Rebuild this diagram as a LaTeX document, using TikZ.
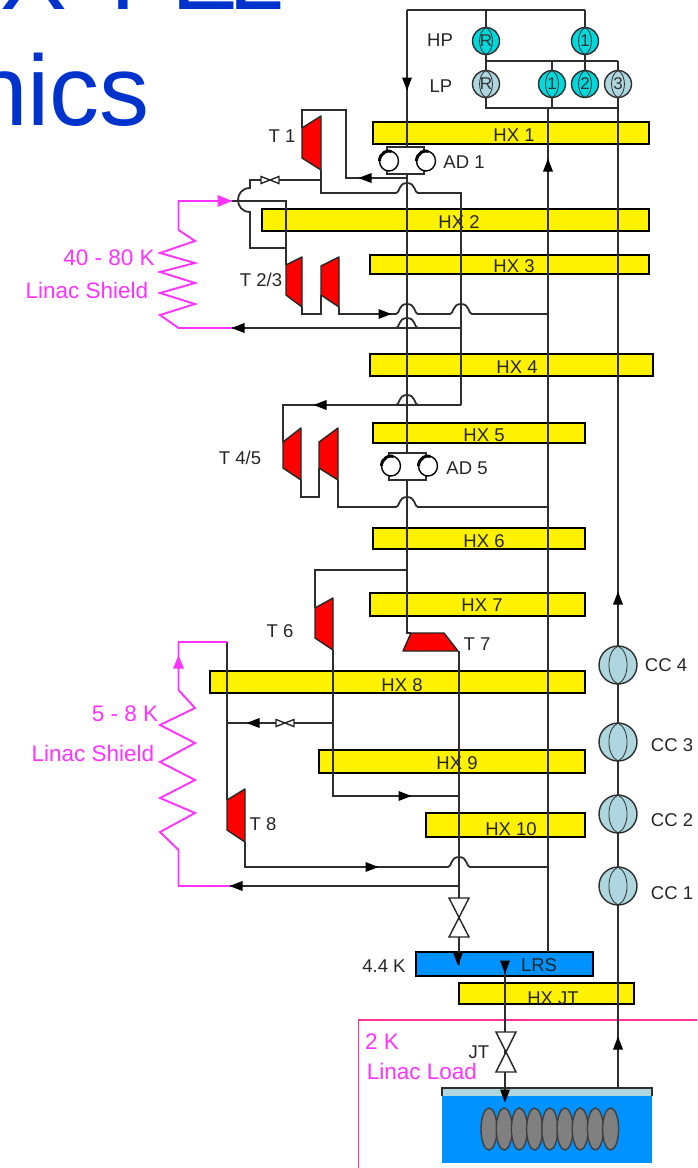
\documentclass[tikz,border=0pt]{standalone}
\usepackage{fontspec}
\setmainfont{Liberation Sans}
\usetikzlibrary{shapes.geometric}
\definecolor{pipecol}{HTML}{2E2E2E}
\definecolor{titleblue}{HTML}{0033CC}
\definecolor{shieldpink}{HTML}{FF33FF}
\definecolor{boxpink}{HTML}{FF3399}
\definecolor{cyanhp}{HTML}{00D8DC}
\definecolor{lightcc}{HTML}{AED6DE}
\definecolor{lrsblue}{HTML}{0092FF}
\tikzset{
  pipe/.style={draw=pipecol,line width=1.8pt,line join=miter},
  shield/.style={draw=shieldpink,line width=1.9pt},
  hxbar/.style={draw=black,fill=yellow,line width=1.6pt,rectangle,inner sep=0pt,outer sep=0pt},
  lrsbar/.style={hxbar,fill=lrsblue},
  hxlabel/.style={inner sep=0pt,font=\fontsize{18.5}{20}\selectfont,text=black!85},
  tag/.style={inner sep=0pt,font=\fontsize{18.5}{20}\selectfont,text=black!85},
  pinktag/.style={inner sep=0pt,font=\fontsize{22.5}{24}\selectfont,text=shieldpink},
  turbine/.style={draw=black!85,fill=red,line width=1.4pt,line join=round},
  comp/.style={circle,draw=pipecol,line width=1.4pt,inner sep=0pt,outer sep=0pt,font=\fontsize{17}{18}\selectfont,text=black!80},
  lens/.style={draw=pipecol,line width=.8pt},
  tip/.style={fill=black},
  valvetri/.style={draw=black!85,fill=white,line width=1.4pt,line join=miter},
  adwheel/.style={draw=black,fill=white,line width=1.4pt},
  cav/.style={ellipse,draw=black!75,fill=black!50,line width=1.4pt,minimum width=16pt,minimum height=42pt,inner sep=0pt},
}
% horizontal pipe hump over a vertical line at x=#1, on height #2
\newcommand{\humpat}[2]{-- (#1-11,#2) .. controls (#1-7,#2) and (#1-9,#2-10) .. (#1,#2-10) .. controls (#1+9,#2-10) and (#1+7,#2) .. (#1+11,#2)}
% arrowhead centred at (#1,#2), pointing along angle #3
\newcommand{\arrowat}[3]{\fill[tip,shift={(#1,#2)},rotate=#3] (6.5pt,0pt) -- (-6.5pt,-5pt) -- (-6.5pt,5pt) -- cycle;}
% heat exchanger: name, x1, y1, x2, y2, label, label x, label y, style
\newcommand{\hxunit}[9]{\node[#9,minimum width={(#4-#2)*1pt},minimum height={(#5-#3)*1pt}] (#1) at ({(#2+#4)/2},{(#3+#5)/2}) {};
  \node[hxlabel] (#1-label) at (#7,#8) {#6};}
% turbine with a vertical axis: name, xl, xr, yl top, yl bottom, yr top, yr bottom
\newcommand{\turbineat}[7]{\draw[turbine] (#2,#4) -- (#3,#6) -- (#3,#7) -- (#2,#5) -- cycle;
  \coordinate (#1-in) at (#2,#4); \coordinate (#1-out) at (#3,#7); \coordinate (#1-lo) at (#2,#5);}
% compressor: name, coordinate, diameter, fill, label
\newcommand{\compat}[5]{\node[comp,minimum size=#3pt,fill=#4] (#1) at (#2) {};
  \draw[lens] (#1.north) to[out=205,in=155,looseness=.9] (#1.south);
  \draw[lens] (#1.north) to[out=-25,in=25,looseness=.9] (#1.south);
  \node[inner sep=0pt,font=\fontsize{17}{18}\selectfont,text=black!80] (#1-label) at (#2) {#5};}
% expander wheel of an adsorber
\newcommand{\wheelat}[3]{\draw[adwheel] (#2,#3) ellipse (9.5pt and 10pt);
  \draw[black,line width=3pt] (#2-9.5,#3) arc[start angle=180,end angle=75,x radius=9.5pt,y radius=10pt];}
% small inline valve, horizontal
\newcommand{\tinyvalve}[2]{\draw[valvetri] (#1-9,#2-3.5) -- (#1+9,#2+3.5) -- (#1+9,#2-3.5) -- (#1-9,#2+3.5) -- cycle;}
% hourglass valve, vertical
\newcommand{\bigvalve}[3]{\draw[valvetri] (#1-10,#2) -- (#1+10,#2) -- (#1-10,#3) -- (#1+10,#3) -- cycle;}
\begin{document}
\begin{tikzpicture}[x=1pt,y=-1pt]
\useasboundingbox (0,0) rectangle (697,1168);
\clip (0,0) rectangle (697,1168);
\fill[white] (0,0) rectangle (697,1168);

% slide title fragments
\node[anchor=base west,inner sep=0pt,text=titleblue,font=\fontsize{100}{100}\selectfont] (titleA) at (0,9) {X\hspace{44pt}FE\hspace{-10pt}L};
\node[anchor=base west,inner sep=0pt,text=titleblue,font=\fontsize{100}{100}\selectfont] (titleB) at (-28,125) {nics};

% 2 K load box and helium bath
\draw[draw=boxpink,line width=1.5pt] (358.5,1180) -- (358.5,1020) -- (720,1020);
\fill[lrsblue] (442,1096) rectangle (652,1163);
\draw[fill=lightcc,draw=none] (442,1088) rectangle (652,1096);
\draw[draw=pipecol,line width=1.8pt] (442,1096) -- (442,1088) -- (652,1088) -- (652,1096);

% heat exchangers
\hxunit{hx1}{373}{122}{649}{144}{HX 1}{514}{135}{hxbar}
\hxunit{hx2}{262}{209}{649}{231}{HX 2}{459}{222}{hxbar}
\hxunit{hx3}{370}{255}{649}{274}{HX 3}{514}{266}{hxbar}
\hxunit{hx4}{370}{354}{653}{376}{HX 4}{517}{367}{hxbar}
\hxunit{hx5}{373}{423}{585}{443}{HX 5}{484}{435}{hxbar}
\hxunit{hx6}{373}{528}{585}{549}{HX 6}{484}{541}{hxbar}
\hxunit{hx7}{370}{593}{585}{616}{HX 7}{482}{605}{hxbar}
\hxunit{hx8}{210}{671}{585}{693}{HX 8}{402}{685}{hxbar}
\hxunit{hx9}{319}{750}{585}{773}{HX 9}{457}{763}{hxbar}
\hxunit{hx10}{426}{813}{585}{837}{HX 10}{511}{829}{hxbar}
\hxunit{lrs}{416}{952}{593}{976}{LRS}{539}{965}{lrsbar}
\hxunit{hxjt}{459}{983}{634}{1004}{HX JT}{553}{998}{hxbar}

% turbines
\turbineat{T1}{302}{321}{128}{158}{116}{170}
\turbineat{T2}{286}{302}{265}{295}{257}{307}
\turbineat{T3}{321}{339}{266}{295}{257}{307}
\turbineat{T4}{283}{301}{442}{468}{428}{480}
\turbineat{T5}{319}{338}{442}{468}{428}{480}
\turbineat{T6}{315}{333}{608}{638}{598}{650}
\turbineat{T8}{227}{245}{800}{830}{789}{842}
\draw[turbine] (411,633) -- (444,633) -- (458,651) -- (403,651) -- cycle;
\coordinate (T7-in) at (411,633);
\coordinate (T7-out) at (459,651);

% machine positions
\coordinate (hpR) at (486,41);
\coordinate (hp1) at (585,41);
\coordinate (lpR) at (486,84);
\coordinate (lp1) at (552,84);
\coordinate (lp2) at (585,84);
\coordinate (lp3) at (618,84);
\coordinate (cc4) at (618,665);
\coordinate (cc3) at (618,742);
\coordinate (cc2) at (618,814);
\coordinate (cc1) at (618,886);

% supply line
\draw[pipe] (407,10) -- (585,10);
\draw[pipe] (hpR |- 0,10) -- (lpR);
\draw[pipe] (hp1 |- 0,10) -- (lp2);
\draw[pipe] (486,61) -- (618,61);
\draw[pipe] (lp1 |- 0,61) -- (lp1 |- 0,108);
\draw[pipe] (lp3 |- 0,61) -- (lp3);
\draw[pipe] (lpR) |- (618,108);
\draw[pipe] (407,10) -- (407,147);
\draw[pipe] (407,174) -- (407,453);
\draw[pipe] (407,480) -- (407,633) -- (T7-in);
% return lines
\draw[pipe] (548,108) -- (548,952);
\draw[pipe] (lp3) -- (cc1);
\draw[pipe] (cc1) -- (618,1088);

% adsorbers
\draw[pipe,line width=1.4pt,fill=white] (387,147) rectangle (424,174);
\draw[pipe,line width=1.4pt,fill=white] (389,453) rectangle (426,480);
\draw[pipe] (407,122) -- (407,147);
\wheelat{a1l}{389}{161}
\wheelat{a1r}{426}{161}
\wheelat{a5l}{391}{466}
\wheelat{a5r}{428}{466}
\draw[pipe] (407,174) -- (407,178) -| (346,110) -| (T1-in);

% T1 outlet
\draw[pipe] (T1-out) |- (386,193) \humpat{407}{193} -- (461,193) -- (461,405);
\draw[pipe] (T1-out |- 0,180) -- (250,180) -- (250,188) .. controls (242,188) and (238,194) .. (238,200) .. controls (238,206) and (242,212) .. (250,212) -- (250,248) -- (286,248);
\draw[pipe] (232,201) -- (286,201) -- (T2-in);
\tinyvalve{270}{180}

% T2/T3
\draw[pipe] (T2-out) |- (321,314) -- (T3-lo);
\draw[pipe] (T3-out) |- (386,314) \humpat{407}{314} -- (450,314) \humpat{461}{314} -- (548,314);
\draw[pipe] (461,328) -- (418,328) \humpat{407}{328} -- (232,328);

% T4/T5
\draw[pipe] (461,405) -- (418,405) \humpat{407}{405} -- (283,405) -- (T4-in);
\draw[pipe] (T4-out) |- (319,497) -- (T5-lo);
\draw[pipe] (T5-out) |- (386,507) \humpat{407}{507} -- (548,507);

% T6, T7, T8
\draw[pipe] (407,570) -- (315,570) -- (T6-in);
\draw[pipe] (T6-out) |- (459,796);
\draw[pipe] (T6-out |- 0,723) -- (227,723);
\draw[pipe] (227,642) -- (T8-in);
\draw[pipe] (T7-out) -- (459,965);
\draw[pipe] (T8-out) |- (448,867) \humpat{459}{867} -- (548,867);
\draw[pipe] (459,886) -- (230,886);
\tinyvalve{285}{723}
\draw[pipe] (505,965) -- (505,1100);

% valves
\bigvalve{459}{898}{937}
\bigvalve{506}{1032}{1072}

% shields
\draw[shield] (232,201) -- (178.5,201) -- (178.5,230) -- (195,241) -- (160,253) -- (195,263) -- (160,272) -- (195,283) -- (160,293) -- (195,304) -- (160,315) -- (178.5,328) -- (232,328);
\draw[shield] (227,642) -- (178.5,642) -- (178.5,690) -- (195,708) -- (160,725) -- (195,743) -- (160,762) -- (195,780) -- (160,798) -- (195,813) -- (160,832) -- (178.5,850) -- (178.5,886) -- (230,886);

% arrowheads
\arrowat{407}{84}{-90}
\arrowat{548}{165}{90}
\arrowat{618}{598}{90}
\arrowat{618}{1043}{90}
\arrowat{365}{178}{180}
\arrowat{385}{314}{0}
\arrowat{238}{328}{180}
\arrowat{320}{405}{180}
\arrowat{253}{723}{180}
\arrowat{405}{796}{0}
\arrowat{372}{867}{0}
\arrowat{236}{886}{180}
\arrowat{458}{959}{-90}
\arrowat{505}{967}{-90}
\arrowat{505}{1096}{-90}
\fill[shieldpink,shift={(224,201)}] (8pt,0pt) -- (-6.5pt,-6pt) -- (-6.5pt,6pt) -- cycle;
\fill[shieldpink,shift={(178.5,662)},rotate=90] (6.5pt,0pt) -- (-6.5pt,-5.5pt) -- (-6.5pt,5.5pt) -- cycle;

% compressors
\compat{chpR}{hpR}{27}{cyanhp}{R}
\compat{chp1}{hp1}{27}{cyanhp}{1}
\compat{clpR}{lpR}{27}{lightcc}{R}
\compat{clp1}{lp1}{27}{cyanhp}{1}
\compat{clp2}{lp2}{27}{cyanhp}{2}
\compat{clp3}{lp3}{27}{lightcc}{3}
\compat{ccd}{cc4}{38}{lightcc}{}
\compat{ccc}{cc3}{38}{lightcc}{}
\compat{ccb}{cc2}{38}{lightcc}{}
\compat{cca}{cc1}{38}{lightcc}{}

% cavities
\foreach \k in {0,...,8} {
  \node[cav] (cav\k) at ({489+15.2*\k},1129) {};
}

% labels
\node[tag] (lHP) at (440,40) {HP};
\node[tag] (lLP) at (441,86) {LP};
\node[tag] (lT1) at (282,136) {T 1};
\node[tag] (lAD1) at (464,162) {AD 1};
\node[tag] (lT23) at (261,280) {T 2/3};
\node[tag] (lT45) at (240,458) {T 4/5};
\node[tag] (lAD5) at (467,468) {AD 5};
\node[tag] (lT6) at (280,631) {T 6};
\node[tag] (lT7) at (477,644) {T 7};
\node[tag] (lT8) at (263,824) {T 8};
\node[tag] (lCC4) at (666,665) {CC 4};
\node[tag] (lCC3) at (672,745) {CC 3};
\node[tag] (lCC2) at (672,820) {CC 2};
\node[tag] (lCC1) at (672,893) {CC 1};
\node[tag] (l44) at (384,966) {4.4 K};
\node[tag] (lJT) at (479,1052) {JT};
\node[pinktag] (lS1a) at (109,258) {40 - 80 K};
\node[pinktag] (lS1b) at (87,290) {Linac Shield};
\node[pinktag] (lS2a) at (125,714) {5 - 8 K};
\node[pinktag] (lS2b) at (93,753) {Linac Shield};
\node[pinktag] (lL2K) at (382,1042) {2 K};
\node[pinktag] (lLoad) at (422,1071) {Linac Load};
\end{tikzpicture}
\end{document}
